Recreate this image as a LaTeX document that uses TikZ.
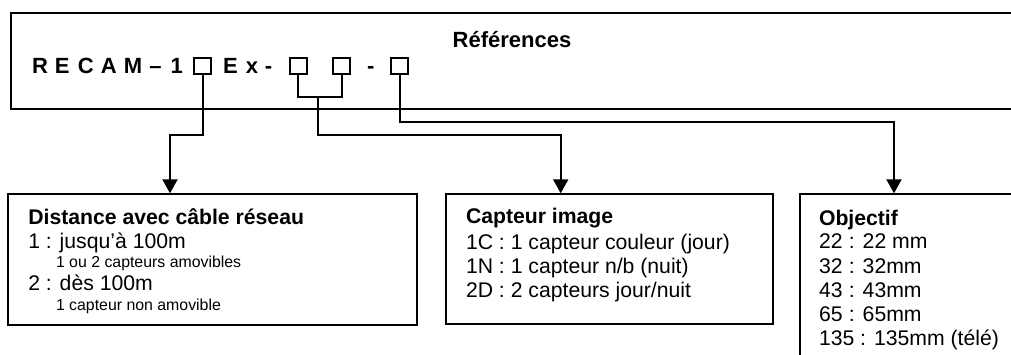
\documentclass[tikz,border=0pt]{standalone}
\usepackage{fontspec}
\setmainfont{Liberation Sans}
\usetikzlibrary{arrows.meta}
\newcommand\fbody{\fontsize{15.9pt}{18pt}\selectfont}
\newcommand\fsmall{\fontsize{11.9pt}{14pt}\selectfont}
\newcommand\fhead{\bfseries\fontsize{15.9pt}{18pt}\selectfont}
\newcommand\ftop{\bfseries\fontsize{16.5pt}{19pt}\selectfont}
\newcommand\lspc[1]{\makebox[17.25pt][l]{#1}}
\newcommand\numcol[1]{\makebox[22.5pt][l]{#1}}
\tikzset{
  frame/.style={draw=black, line width=1.5pt, inner sep=0pt, anchor=north west},
  topframe/.style={frame, line width=1.7pt},
  sqbox/.style={draw=black, line width=1.5pt, inner sep=0pt, minimum width=12.75pt, minimum height=12pt},
  txt/.style={anchor=base west, inner sep=0pt, outer sep=0pt, text=black},
  link/.style={draw=black, line width=1.5pt},
  arrowlink/.style={link, -{Triangle[width=11.25pt,length=10.5pt]}},
}
\begin{document}
\begin{tikzpicture}[x=0.75pt, y=-0.75pt]
\useasboundingbox (0,0) rectangle (1011,354);
\clip (0,0) rectangle (1011,354);
\fill[white] (0,0) rectangle (1011,354);

% top frame
\node[topframe, minimum width=773pt, minimum height=72pt] (top) at (9.5,12) {};
\node[txt, font=\ftop] (ref) at (452.7,47.7) {Références};
\node[txt, font=\ftop] (recam) at (32,73) {\lspc{R}\lspc{E}\lspc{C}\lspc{A}\makebox[19pt][l]{M}\makebox[16pt][l]{–}1};
\node[txt, font=\ftop] (ex) at (223,73) {\lspc{E}\makebox[14.25pt][l]{x}-};
\node[txt, font=\ftop] (dash) at (367,73) {-};
\node[sqbox] (s1) at (202.7,65.5) {};
\node[sqbox] (s2) at (298.3,65.5) {};
\node[sqbox] (s3) at (341.5,65.5) {};
\node[sqbox] (s4) at (399.5,65.5) {};

% lower frames
\node[frame, minimum width=307pt, minimum height=98pt] (b1) at (6.7,193.3) {};
\node[frame, minimum width=245.5pt, minimum height=97pt] (b2) at (445,193.3) {};
\node[frame, minimum width=180pt, minimum height=140pt] (b3) at (799.3,193.3) {};

% box 1 text
\node[txt, font=\fhead] (d0) at (28.3,224) {Distance avec câble réseau};
\node[txt, font=\fbody] (d1) at (28.3,248.3) {1 : jusqu’à 100m};
\node[txt, font=\fsmall] (d2) at (56,267.3) {1 ou 2 capteurs amovibles};
\node[txt, font=\fbody] (d3) at (28.3,290.7) {2 : dès 100m};
\node[txt, font=\fsmall] (d4) at (56,310.7) {1 capteur non amovible};

% box 2 text
\node[txt, font=\fhead] (c0) at (466,223.3) {Capteur image};
\node[txt, font=\fbody] (c1) at (466,249) {1C : 1 capteur couleur (jour)};
\node[txt, font=\fbody] (c2) at (466,273.3) {1N : 1 capteur n/b (nuit)};
\node[txt, font=\fbody] (c3) at (466,297) {2D : 2 capteurs jour/nuit};

% box 3 text
\node[txt, font=\fhead] (o0) at (819,225) {Objectif};
\node[txt, font=\fbody] (o1) at (819,248.5) {\numcol{22}: 22 mm};
\node[txt, font=\fbody] (o2) at (819,273) {\numcol{32}: 32mm};
\node[txt, font=\fbody] (o3) at (819,297) {\numcol{43}: 43mm};
\node[txt, font=\fbody] (o4) at (819,321.5) {\numcol{65}: 65mm};
\node[txt, font=\fbody] (o5) at (819,345.5) {135 : 135mm (télé)};

% connectors
\coordinate (k1) at (170,135);
\draw[arrowlink] (s1.south) |- (k1) -- (k1 |- b1.north);

\coordinate (j) at (318.3,97);
\draw[link] (s2.south) |- (j) -| (s3.south);
\coordinate (k2) at (560.7,135);
\draw[arrowlink] (j) |- (k2) -- (k2 |- b2.north);

\coordinate (k3) at (894,122);
\draw[arrowlink] (s4.south) |- (k3) -- (k3 |- b3.north);
\end{tikzpicture}
\end{document}
